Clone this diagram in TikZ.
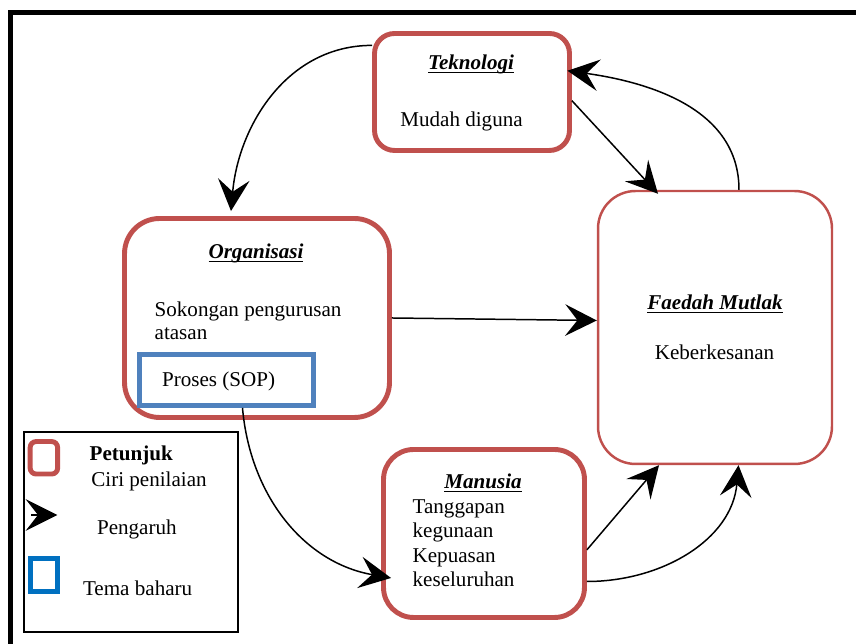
\documentclass[tikz,border=0pt]{standalone}
\usepackage{fontspec}
\setmainfont{Liberation Serif}
\usetikzlibrary{arrows.meta}
\definecolor{merah}{HTML}{C0504D}
\definecolor{biru}{HTML}{4F81BD}
\definecolor{birulegenda}{HTML}{0070C0}
% tajuk: tebal, condong, bergaris bawah
\newcommand{\tajuk}[1]{\setbox0\hbox{\textbf{\textit{#1}}}\rlap{\copy0}\rule[-1.9pt]{\wd0}{1pt}}

\begin{document}
\begin{tikzpicture}[x=0.02cm, y=0.02cm,
  font=\fontsize{12}{13.8}\selectfont,
  every node/.style={inner sep=0pt},
  faktor/.style={draw=merah, line width=2.8pt, rounded corners=#1},
  hasil/.style={draw=merah, line width=1.4pt, rounded corners=0.75cm},
  tema/.style={draw=biru, line width=2.8pt},
  pengaruh/.style={-{Stealth[length=18pt, width=18pt, inset=7pt]}, line width=0.85pt}]
  \useasboundingbox (0,0) rectangle (856,644);
  % bingkai luar
  \draw[line width=3pt] (10.3,0) -- (10.3,631.8) -- (856,631.8);
  % kotak utama
  \node[faktor=0.4cm, minimum width=3.9cm, minimum height=2.34cm] (tek) at (472,552) {};
  \node[faktor=0.7cm, minimum width=5.3cm, minimum height=3.98cm] (org) at (257,326) {};
  \node[hasil, minimum width=4.68cm, minimum height=5.46cm] (fae) at (715,316.5) {};
  \node[faktor=0.6cm, minimum width=4.02cm, minimum height=3.36cm] (man) at (484,110.5) {};
  \node[tema, minimum width=3.48cm, minimum height=1.02cm] (sop) at (226.5,264) {};
  % teks dalam kotak
  \node[anchor=base] (tekT) at (471,574) {\tajuk{Teknologi}};
  \node[anchor=base] (tekA) at (461.5,517.3) {Mudah diguna};
  \node[anchor=base] (orgT) at (256,385) {\tajuk{Organisasi}};
  \node[anchor=base west] (orgA) at (154.3,327.3) {Sokongan pengurusan};
  \node[anchor=base west] (orgB) at (154.3,304) {atasan};
  \node[anchor=base west] (sopA) at (161.7,257.3) {Proses (SOP)};
  \node[anchor=base] (faeT) at (715,334) {\tajuk{Faedah Mutlak}};
  \node[anchor=base] (faeA) at (714.5,284.7) {Keberkesanan};
  \node[anchor=base] (manT) at (483,155) {\tajuk{Manusia}};
  \node[anchor=base west] (manA) at (412.3,130) {Tanggapan};
  \node[anchor=base west] (manB) at (412.3,106.3) {kegunaan};
  \node[anchor=base west] (manC) at (412.3,81) {Kepuasan};
  \node[anchor=base west] (manD) at (412.3,57.3) {keseluruhan};
  % anak panah pengaruh
  \draw[pengaruh] (tek.155) to[out=180, in=85] ([xshift=-0.52cm, yshift=0.1cm]org.north);
  \draw[pengaruh] (tek.-5) -- ([xshift=-1.14cm, yshift=-0.08cm]fae.north);
  \draw[pengaruh] ([xshift=0.48cm]fae.north) to[out=90, in=-8] ([xshift=-0.09cm]tek.12);
  \draw[pengaruh] (org.east) -- ([yshift=0.14cm]fae.west);
  \draw[pengaruh] ([xshift=0.32cm]sop.south) to[out=-85, in=170] ([xshift=0.2cm, yshift=-0.89cm]man.west);
  \draw[pengaruh] (man.-9) -- ([xshift=-1.12cm]fae.south);
  \draw[pengaruh] (man.-25) to[out=0, in=-95] ([xshift=0.47cm]fae.south);
  % petunjuk
  \node[draw, line width=1.1pt, minimum width=4.28cm, minimum height=4cm] (leg) at (130.8,111.8) {};
  \node[faktor=0.12cm, minimum width=0.55cm, minimum height=0.65cm] (legM) at (43.9,186.2) {};
  \node[draw=birulegenda, line width=2.8pt, minimum width=0.55cm, minimum height=0.66cm] (legB) at (43.9,69) {};
  \coordinate (panA) at (31,129);
  \coordinate (panB) at (57.3,129);
  \draw[pengaruh] (panA) -- (panB);
  \node[anchor=base west] (legT) at (89.3,183.3) {\textbf{Petunjuk}};
  \node[anchor=base west] (legA) at (91,157.3) {Ciri penilaian};
  \node[anchor=base west] (legC) at (96.7,109) {Pengaruh};
  \node[anchor=base west] (legD) at (82.7,48.3) {Tema baharu};
\end{tikzpicture}
\end{document}
